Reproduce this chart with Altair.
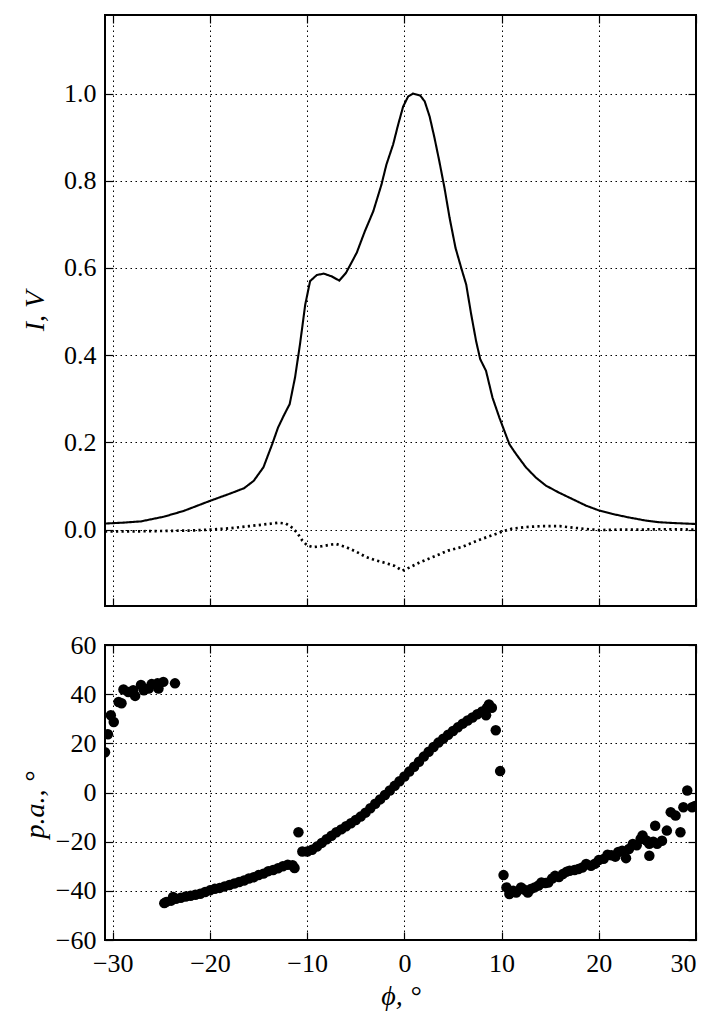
import altair as alt
import pandas as pd

# ---------------- data ----------------
X_TICKS = [-30, -20, -10, 0, 10, 20, 30]
X_DOMAIN = [-30.8, 30]
TOP_Y_TICKS = [0.0, 0.2, 0.4, 0.6, 0.8, 1.0]
TOP_Y_DOMAIN = [-0.175, 1.18]
BOT_Y_TICKS = [-60, -40, -20, 0, 20, 40, 60]
BOT_Y_DOMAIN = [-60, 60]

I_phi = [-30.8, -29, -27.1, -24.7, -22.7, -20, -17.9, -16.5, -15.5, -14.5, -13.6, -13.0,
         -12.4, -11.8, -11.25, -10.74, -10.2, -9.7, -9.0, -8.3, -7.5, -6.7, -6.0, -4.9,
         -4.07, -3.2, -2.36, -1.85, -1.16, -0.65, -0.13, 0.38, 0.89, 1.64, 2.09, 2.6, 3.1,
         3.6, 4.13, 4.65, 5.26, 5.85, 6.36, 6.87, 7.38, 7.8, 8.4, 9.06, 9.77, 10.8, 11.5,
         12.5, 13.5, 14.56, 15.9, 17.3, 18.7, 19.9, 21.4, 23.1, 24.8, 26.2, 27.9, 30]
I_val = [0.014, 0.016, 0.019, 0.030, 0.043, 0.066, 0.083, 0.095, 0.112, 0.143, 0.196, 0.234,
         0.262, 0.288, 0.349, 0.425, 0.516, 0.570, 0.584, 0.587, 0.581, 0.571, 0.589, 0.635,
         0.684, 0.730, 0.791, 0.837, 0.883, 0.928, 0.970, 0.993, 1.000, 0.995, 0.982, 0.947,
         0.898, 0.844, 0.783, 0.715, 0.646, 0.600, 0.562, 0.494, 0.432, 0.391, 0.364, 0.303,
         0.257, 0.196, 0.173, 0.143, 0.120, 0.101, 0.085, 0.070, 0.055, 0.045, 0.036, 0.028,
         0.021, 0.017, 0.015, 0.013]

V_phi = [-30.8, -28, -25, -22, -20, -18, -16, -14, -13, -12.2, -11.5, -11.0, -10.5, -10.0,
         -9.4, -8.5, -7.5, -7.0, -6.0, -5.0, -4.0, -3.0, -2.0, -1.0, -0.2, 0.5, 1.5, 3.0,
         4.5, 6.0, 7.5, 9.0, 10.0, 11.0, 12.5, 14.0, 16.0, 18.0, 20.0, 22, 24, 26, 28, 30]
V_val = [-0.004, -0.004, -0.003, -0.002, 0.000, 0.003, 0.008, 0.013, 0.016, 0.014, 0.004,
         -0.008, -0.025, -0.036, -0.040, -0.038, -0.034, -0.033, -0.040, -0.050, -0.062,
         -0.070, -0.076, -0.083, -0.094, -0.087, -0.076, -0.062, -0.048, -0.039, -0.025,
         -0.013, -0.005, 0.002, 0.006, 0.008, 0.008, 0.003, -0.001, 0.000, 0.000, 0.001,
         0.001, 0.000]

# position angle, branch by branch
pa_phi_ul = [-30.8, -30.5, -30.2, -29.9, -29.4, -29.1, -28.9, -28.4, -27.9, -27.7, -27.1,
             -26.8, -26.3, -26.0, -25.4, -25.3, -24.8, -23.6]
pa_val_ul = [16.4, 23.7, 31.4, 28.7, 36.8, 36.3, 41.9, 40.9, 41.6, 39.3, 43.7, 41.6, 42.3,
             44.1, 44.4, 42.3, 45.0, 44.4]

pa_phi_ll = [-24.7, -24.5, -24.0, -23.8, -23.5, -23.0, -22.5, -22.0, -21.5, -21.0, -20.5,
             -20.0, -19.5, -19.0, -18.5, -18.0, -17.5, -17.0, -16.5, -16.0, -15.5, -15.0,
             -14.5, -14.0, -13.5, -13.0, -12.5, -12.0, -11.5, -11.3, -10.9]
pa_val_ll = [-45.0, -44.5, -44.0, -42.5, -43.2, -42.8, -42.3, -42.0, -41.6, -41.2, -40.5,
             -39.8, -39.2, -38.8, -38.2, -37.6, -37.0, -36.4, -35.8, -35.0, -34.5, -33.6,
             -33.0, -32.0, -31.5, -30.8, -30.0, -29.4, -29.6, -30.7, -16.2]

pa_phi_mid = [-10.5, -10.0, -9.5, -9.0, -8.5, -8.0, -7.5, -7.0, -6.5, -6.0, -5.5, -5.0, -4.5,
              -4.0, -3.5, -3.0, -2.5, -2.0, -1.5, -1.0, -0.5, 0.0, 0.5, 1.0, 1.5, 2.0, 2.5,
              3.0, 3.5, 4.0, 4.5, 5.0, 5.5, 6.0, 6.5, 7.0, 7.5, 8.0, 8.5, 9.0, 8.4, 8.7,
              9.4, 9.85]
pa_val_mid = [-24.0, -24.0, -23.3, -22.0, -20.5, -19.0, -17.6, -16.2, -15.0, -13.7, -12.5,
              -11.2, -9.8, -8.2, -6.4, -4.6, -2.8, -1.0, 0.8, 2.7, 4.6, 6.5, 8.5, 10.5, 12.5,
              14.6, 16.6, 18.5, 20.3, 21.9, 23.5, 25.0, 26.5, 28.0, 29.3, 30.5, 31.8, 33.0,
              34.5, 34.5, 31.4, 35.8, 25.3, 8.7]

pa_phi_lr = [10.2, 10.5, 10.8, 11.2, 11.5, 12.0, 12.3, 12.7, 13.0, 13.4, 13.8, 14.1, 14.5,
             14.8, 15.2, 15.5, 15.9, 16.3, 16.7, 17.0, 17.5, 17.9, 18.3, 18.7, 19.2, 19.6,
             20.0, 20.5, 20.9, 21.3, 21.7, 22.0, 22.4, 22.8, 23.1, 23.5, 23.9, 24.3, 24.5,
             24.9, 25.2, 25.2, 25.6, 25.8, 26.0, 26.5, 27.0, 27.4, 27.9, 28.4, 28.7, 29.1,
             29.6, 29.9]
pa_val_lr = [-33.6, -38.6, -41.3, -40.0, -40.7, -38.6, -39.5, -40.7, -39.3, -38.6, -37.8,
             -36.6, -36.8, -36.6, -35.0, -33.9, -34.4, -33.2, -32.2, -31.8, -31.5, -31.1,
             -30.5, -29.1, -29.8, -29.0, -27.5, -27.0, -25.3, -25.5, -26.1, -24.2, -23.7,
             -26.7, -23.0, -20.9, -21.5, -18.9, -17.5, -19.5, -25.7, -20.9, -20.0, -13.5,
             -20.9, -19.6, -15.5, -8.0, -9.4, -16.2, -6.0, 0.8, -6.0, -5.5]

# ---------------- tables ----------------
lines_df = pd.DataFrame({
    "phi": I_phi + V_phi,
    "val": I_val + V_val,
    "series": ["I"] * len(I_phi) + ["V"] * len(V_phi),
})
pa_df = pd.DataFrame({
    "phi": pa_phi_ul + pa_phi_ll + pa_phi_mid + pa_phi_lr,
    "pa": pa_val_ul + pa_val_ll + pa_val_mid + pa_val_lr,
})

FONT = "Liberation Serif"
TICK = 8
LBL = dict(labelFont=FONT, labelFontSize=26, labelColor="black",
           titleFont=FONT, titleFontSize=28, titleFontStyle="italic",
           titleFontWeight="normal", titleColor="black")
GRID = dict(grid=True, gridColor="black", gridDash=[1.5, 3.5], gridWidth=1, gridOpacity=1)
TICKSTYLE = dict(ticks=True, tickSize=TICK, tickColor="black", tickWidth=1.2, offset=-TICK,
                 domain=False)

xs = alt.Scale(domain=X_DOMAIN, nice=False, zero=False)
ys_top = alt.Scale(domain=TOP_Y_DOMAIN, nice=False, zero=False)
ys_bot = alt.Scale(domain=BOT_Y_DOMAIN, nice=False, zero=False)

W = 591
H_TOP = 591
H_BOT = 295


def opposite_ticks(data, yfield, yscale, yvals):
    return alt.Chart(data).mark_point(opacity=0).encode(
        x=alt.X("phi:Q", scale=xs, axis=alt.Axis(orient="top", values=X_TICKS, labels=False,
                                                 grid=False, title="", **TICKSTYLE)),
        y=alt.Y(f"{yfield}:Q", scale=yscale,
                axis=alt.Axis(orient="right", values=yvals, labels=False, grid=False,
                              title="", **TICKSTYLE)),
    )


top_lines = alt.Chart(lines_df).mark_line(color="black", clip=True).encode(
    x=alt.X("phi:Q", scale=xs,
            axis=alt.Axis(orient="bottom", values=X_TICKS, labels=False, title="",
                          labelPadding=0, titlePadding=0, **TICKSTYLE, **GRID)),
    y=alt.Y("val:Q", scale=ys_top,
            axis=alt.Axis(orient="left", values=TOP_Y_TICKS, format=".1f", labelPadding=9,
                          title="I, V", titleX=-78, titleY=H_TOP / 2, titleAngle=270,
                          titleAlign="center", titleBaseline="middle",
                          **LBL, **TICKSTYLE, **GRID)),
    strokeDash=alt.StrokeDash("series:N",
                              scale=alt.Scale(domain=["I", "V"], range=[[1, 0], [2.2, 3.3]]),
                              legend=None),
    strokeWidth=alt.StrokeWidth("series:N",
                                scale=alt.Scale(domain=["I", "V"], range=[2.1, 2.7]),
                                legend=None),
    detail="series:N",
)

top = alt.layer(
    top_lines,
    opposite_ticks(lines_df, "val", ys_top, TOP_Y_TICKS),
).resolve_axis(x="independent", y="independent").properties(width=W, height=H_TOP)

bot_points = alt.Chart(pa_df).mark_circle(size=110, color="black", opacity=1, clip=True).encode(
    x=alt.X("phi:Q", scale=xs,
            axis=alt.Axis(orient="bottom", values=X_TICKS, labelPadding=10,
                          title="ϕ, °", titlePadding=6,
                          **LBL, **TICKSTYLE, **GRID)),
    y=alt.Y("pa:Q", scale=ys_bot,
            axis=alt.Axis(orient="left", values=BOT_Y_TICKS, labelPadding=9,
                          title="p.a., °", titleX=-78, titleY=H_BOT / 2 + 12, titleAngle=270,
                          titleAlign="center", titleBaseline="middle",
                          **LBL, **TICKSTYLE, **GRID)),
)

bottom = alt.layer(
    bot_points,
    opposite_ticks(pa_df, "pa", ys_bot, BOT_Y_TICKS),
).resolve_axis(x="independent", y="independent").properties(width=W, height=H_BOT)

chart = alt.vconcat(top, bottom, spacing=23).properties(
    padding={"left": 20, "top": 13, "right": 5, "bottom": 5},
    background="white",
).configure_view(
    stroke="black", strokeWidth=2,
)

chart.save("out.html", embed_options={"renderer": "svg", "actions": False})
